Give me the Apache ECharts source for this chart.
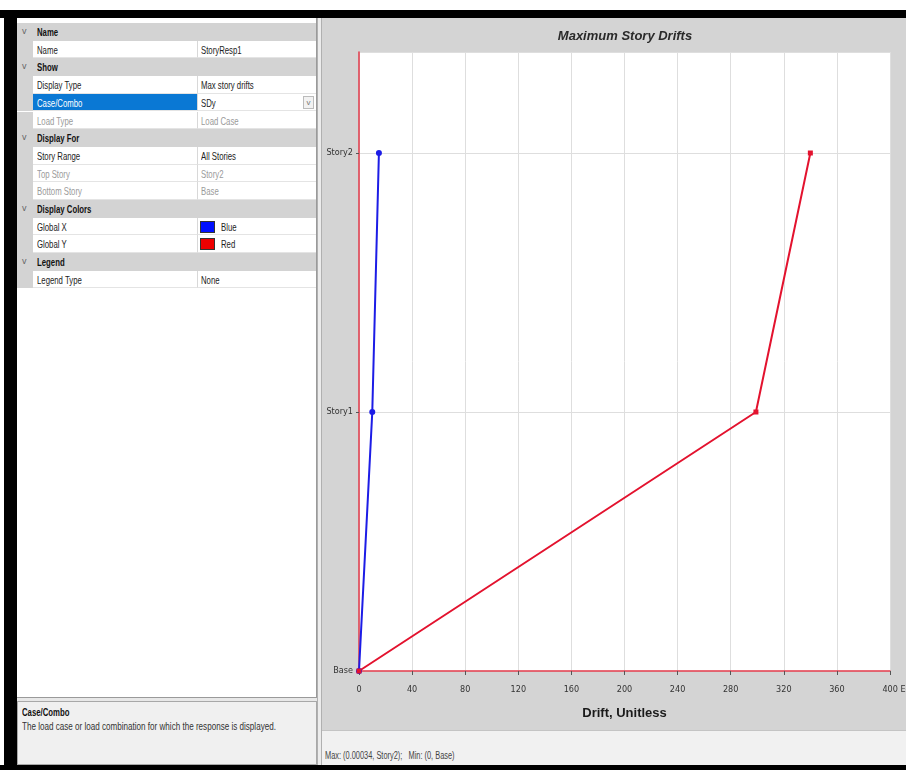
<!DOCTYPE html>
<html>
<head>
<meta charset="utf-8">
<script src="https://cdn.jsdelivr.net/npm/echarts@6/dist/echarts.min.js"></script>
<style>
  html, body { margin: 0; padding: 0; background: #fff; }
  body { width: 906px; height: 770px; position: relative; overflow: hidden;
         font-family: "Liberation Sans", Arial, sans-serif; font-size: 10.5px; color: #222; }
  .abs { position: absolute; box-sizing: border-box; }
  .frame { background: #000; }
  .n { display: inline-block; transform: scaleX(0.74); transform-origin: 0 50%; white-space: nowrap; }
  .row { position: absolute; left: 17px; width: 299px; height: 17.7px; box-sizing: border-box; }
  .hdr { background: #d3d3d3; font-weight: bold; color: #111; }
  .hdr .chev { position: absolute; left: 5px; top: 3px; color: #666; font-weight: normal; font-size: 9px; }
  .hdr .txt { position: absolute; left: 20px; top: 3px; }
  .prop .gut { position: absolute; left: 0; top: 0; width: 16px; height: 100%; background: #d3d3d3; }
  .prop .lab { position: absolute; left: 16px; top: 0; width: 164px; height: 100%; border-bottom: 1px solid #e4e4e4; padding: 3px 0 0 4px; box-sizing: border-box; }
  .prop .val { position: absolute; left: 180px; top: 0; width: 119px; height: 100%; border-bottom: 1px solid #e4e4e4; border-left: 1px solid #d8d8d8; padding: 3px 0 0 3px; box-sizing: border-box; }
  .dis { color: #9a9a9a; }
  .sel { background: #0a78d4; color: #fff; }
  .sw { position: absolute; left: 2px; top: 3px; width: 15px; height: 12px; border: 1px solid #333; box-sizing: border-box; }
  .swt { position: absolute; left: 23px; top: 3px; }
  .dd { position: absolute; right: 2px; top: 2px; width: 11px; height: 13px; border: 1px solid #bbb; background: #f2f2f2; color: #777; font-size: 8px; text-align: center; line-height: 12px; box-sizing: border-box; }
</style>
</head>
<body>
<!-- window frame -->
<div class="abs frame" style="left:0;top:10px;width:906px;height:8px"></div>
<div class="abs frame" style="left:4px;top:10px;width:13px;height:760px"></div>
<div class="abs frame" style="left:0;top:765px;width:906px;height:5px"></div>

<!-- property grid -->
<div class="abs" id="grid" style="left:17px;top:18px;width:300px;height:680px;background:#fff;border-right:1px solid #9a9a9a;border-bottom:1px solid #9a9a9a"></div>
<div class="abs" style="left:17px;top:698px;width:300px;height:3px;background:#e8e8e8"></div>
<div class="abs" style="left:17px;top:701px;width:300px;height:64px;background:#f0f0f0;border:1px solid #a8a8a8;padding:4px 0 0 4px">
  <div style="font-weight:bold;color:#111"><span class="n">Case/Combo</span></div>
  <div style="margin-top:2px;color:#333"><span class="n" style="transform:scaleX(0.77)">The load case or load combination for which the response is displayed.</span></div>
</div>
<!-- splitter -->
<div class="abs" style="left:317px;top:18px;width:5px;height:747px;background:#ececec;border-left:1px solid #b0b0b0;border-right:1px solid #b0b0b0"></div>

<!-- chart panel -->
<div class="abs" style="left:322px;top:18px;width:584px;height:712px;background:#d4d4d4"></div>
<div id="chart" class="abs" style="left:322px;top:18px;width:584px;height:712px"></div>
<div class="abs" style="left:322px;top:730px;width:584px;height:35px;background:#f1f1f1;border-top:1px solid #c4c4c4;">
  <div style="position:absolute;left:3px;top:19px;font-size:10px;color:#444"><span class="n">Max: (0.00034, Story2);&nbsp;&nbsp; Min: (0, Base)</span></div>
</div>

<script>
// Property grid rows: [kind, label, value, swatch colour]
const propRows = [
  ['h', 'Name'],
  ['p', 'Name', 'StoryResp1'],
  ['h', 'Show'],
  ['p', 'Display Type', 'Max story drifts'],
  ['s', 'Case/Combo', 'SDy'],
  ['d', 'Load Type', 'Load Case'],
  ['h', 'Display For'],
  ['p', 'Story Range', 'All Stories'],
  ['d', 'Top Story', 'Story2'],
  ['d', 'Bottom Story', 'Base'],
  ['h', 'Display Colors'],
  ['c', 'Global X', 'Blue', '#0010ff'],
  ['c', 'Global Y', 'Red', '#ee0000'],
  ['h', 'Legend'],
  ['p', 'Legend Type', 'None']
];

const rowTop = 23, rowH = 17.7;
const nar = (t) => '<span class="n">' + t + '</span>';
propRows.forEach((r, i) => {
  const el = document.createElement('div');
  el.className = 'row ' + (r[0] === 'h' ? 'hdr' : 'prop');
  el.style.top = (rowTop + i * rowH) + 'px';
  if (r[0] === 'h') {
    el.innerHTML = '<span class="chev">v</span><span class="txt">' + nar(r[1]) + '</span>';
  } else {
    const labCls = r[0] === 'd' ? 'lab dis' : (r[0] === 's' ? 'lab sel' : 'lab');
    const valCls = r[0] === 'd' ? 'val dis' : 'val';
    let val = nar(r[2]);
    if (r[0] === 'c') val = '<span class="sw" style="background:' + r[3] + '"></span><span class="swt">' + nar(r[2]) + '</span>';
    if (r[0] === 's') val = nar(r[2]) + '<span class="dd">v</span>';
    el.innerHTML = '<div class="gut"></div><div class="' + labCls + '">' + nar(r[1]) + '</div><div class="' + valCls + '">' + val + '</div>';
  }
  document.body.appendChild(el);
});

// Story levels and drifts (E-6)
const stories = ['Base', 'Story1', 'Story2'];
const driftX = [0, 10, 15];    // Global X
const driftY = [0, 299, 340];  // Global Y
const xTicks = [0, 40, 80, 120, 160, 200, 240, 280, 320, 360, 400];

const toPoints = (vals) => vals.map((v, i) => [v, i]);
const narrow = '"Liberation Sans Narrow", "DejaVu Sans Condensed", Arial, sans-serif';

const chart = echarts.init(document.getElementById('chart'), null, { renderer: 'canvas' });
chart.setOption({
  animation: false,
  backgroundColor: 'transparent',
  title: {
    text: 'Maximum Story Drifts',
    left: 298, top: 7, textAlign: 'center',
    textStyle: { fontFamily: 'Liberation Sans, Arial, sans-serif', fontSize: 13, fontStyle: 'italic', fontWeight: 'bold', color: '#2a2a2a' }
  },
  grid: {
    left: 37, top: 34, width: 531, height: 619,
    outerBoundsMode: 'none', containLabel: false,
    show: true, backgroundColor: '#ffffff', borderWidth: 0
  },
  xAxis: {
    type: 'value', min: xTicks[0], max: xTicks[xTicks.length - 1], interval: 40,
    name: 'Drift, Unitless', nameLocation: 'middle', nameGap: 36,
    nameTextStyle: { fontFamily: 'Liberation Sans, Arial, sans-serif', fontSize: 13, fontWeight: 'bold', color: '#1a1a1a' },
    axisLine: { show: true, lineStyle: { color: '#e23a4a', width: 1.5 } },
    axisTick: { show: true, inside: false, length: 4, lineStyle: { color: '#555' } },
    splitLine: { show: true, lineStyle: { color: '#dedede', width: 1 } },
    axisLabel: {
      margin: 14, color: '#333', fontSize: 9, fontFamily: narrow,
      formatter: (v) => v === 400 ? '{m|400 E-6}' : String(v),
      rich: { m: { fontSize: 9, fontFamily: narrow, color: '#333', padding: [0, 0, 0, 16] } }
    }
  },
  yAxis: {
    type: 'value', min: 0, max: 2.39, interval: 1,
    axisLine: { show: true, onZero: false, lineStyle: { color: '#e23a4a', width: 1.5 } },
    axisTick: { show: true, length: 3, lineStyle: { color: '#555' } },
    splitLine: { show: true, lineStyle: { color: '#dedede', width: 1 } },
    axisLabel: {
      margin: 6, color: '#333', fontSize: 9, fontFamily: narrow, showMaxLabel: false,
      formatter: (v) => Number.isInteger(v) ? stories[v] : ''
    }
  },
  series: [
    {
      name: 'Global X', type: 'line', data: toPoints(driftX),
      symbol: 'circle', symbolSize: 6, showSymbol: true,
      lineStyle: { color: '#1c1ce6', width: 2 },
      itemStyle: { color: '#1c1ce6' }
    },
    {
      name: 'Global Y', type: 'line', data: toPoints(driftY),
      symbol: 'rect', symbolSize: 5, showSymbol: true,
      lineStyle: { color: '#e3122e', width: 2 },
      itemStyle: { color: '#e3122e' }
    }
  ]
});
</script>
</body>
</html>
